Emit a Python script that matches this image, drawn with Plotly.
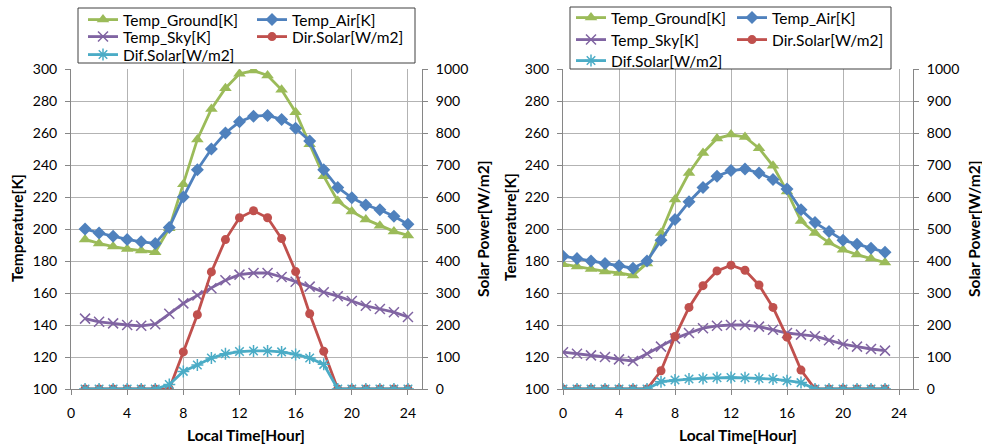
import plotly.graph_objects as go

W, H = 982, 446

# left chart: hours 1..24
hours_l = list(range(1, 25))
ground_l = [193.5, 191, 189, 187.5, 186.5, 185.5, 200.5, 228, 256, 275, 288, 297,
            299, 296, 287, 273, 253, 233, 217.5, 211, 206, 202, 198.5, 196]
air_l = [200, 197.5, 195.5, 193.5, 192, 191, 201, 220, 237, 250, 260, 267,
         270.5, 271, 268.5, 263, 255, 237, 226, 219.5, 215, 212, 208, 203]
sky_l = [144, 142, 141, 140, 139.5, 140.5, 147, 153.5, 158.5, 163, 168, 171.5,
         172.5, 172.5, 170, 167, 164, 160.5, 158, 155, 152, 150, 148, 145]
dir_l = [0, 0, 0, 0, 0, 0, 0, 116, 232, 366, 467, 535,
         557, 535, 470, 367, 235, 118, 0, 0, 0, 0, 0, 0]
dif_l = [0, 0, 0, 0, 0, 0, 14, 55, 75, 97, 110, 117,
         119, 119, 116, 108, 97, 77, 0, 0, 0, 0, 0, 0]

# right chart: hours 0..23
hours_r = list(range(0, 24))
ground_r = [178, 176.5, 175, 173.5, 172.5, 171, 178.5, 197.5, 218.5, 235, 247.5, 256.5,
            259, 257.5, 250.5, 239.5, 223.5, 205, 197.5, 191.5, 187, 184, 181.5, 179]
air_r = [183, 181.5, 180, 178.5, 177, 175.5, 180, 193, 206, 217, 226, 233,
         236.5, 237.5, 235, 231, 225, 212, 204, 198.5, 193, 190.5, 188, 185.5]
sky_r = [123, 122, 121, 120, 118.5, 117.5, 122, 126.5, 131.5, 135, 138, 139.5,
         140, 140, 139, 137, 135, 134, 133, 130.5, 128, 126.5, 125, 124]
dir_r = [0, 0, 0, 0, 0, 0, 0, 57, 164, 255, 323, 369,
         387, 371, 325, 255, 162, 59, 0, 0, 0, 0, 0, 0]
dif_r = [0, 0, 0, 0, 0, 0, 0, 23, 28, 31, 33, 35,
         36, 35, 33, 31, 26, 20, 0, 0, 0, 0, 0, 0]

names = ['Temp_Ground[K]', 'Temp_Air[K]', 'Temp_Sky[K]', 'Dir.Solar[W/m2]', 'Dif.Solar[W/m2]']
colors = ['#9bbb59', '#4f81bd', '#8064a2', '#c0504d', '#4bacc6']
symbols = ['triangle-up', 'diamond', 'x-thin-open', 'circle', 'asterisk-open']
sizes = [11, 10, 10, 9, 10]

FONT = 'Lato'


def px_x(p):
    return p / W


def px_y(p):
    return 1 - p / H


fig = go.Figure()

sets = [
    (hours_l, [ground_l, air_l, sky_l, dir_l, dif_l], ('x', 'y', 'y2'), 0),
    (hours_r, [ground_r, air_r, sky_r, dir_r, dif_r], ('x2', 'y3', 'y4'), 5),
]
for hrs, series, (xa, ya, ya2), off in sets:
    for i, vals in enumerate(series):
        open_sym = symbols[i].endswith('open')
        fig.add_trace(go.Scatter(
            x=hrs, y=vals, name=names[i], mode='lines+markers',
            xaxis=xa, yaxis=ya if i < 3 else ya2,
            line=dict(color=colors[i], width=2.8),
            marker=dict(symbol=symbols[i], size=sizes[i], color=colors[i],
                        line=dict(color=colors[i], width=1.5 if open_sym else 0)),
            legend='legend' if off + i == 0 else 'legend%d' % (off + i + 1),
        ))

# legend entries placed as in the reference (line start x, row centre y)
leg_pos = [(88, 20), (257, 20), (88, 37), (257, 37), (88, 55),
           (576, 18), (737, 18), (576, 40), (737, 40), (576, 61)]
legends = {}
for k, (lx, ly) in enumerate(leg_pos):
    key = 'legend' if k == 0 else 'legend%d' % (k + 1)
    legends[key] = dict(x=px_x(lx - 5), y=px_y(ly), xanchor='left', yanchor='middle',
                        bgcolor='rgba(0,0,0,0)', borderwidth=0,
                        font=dict(family=FONT, size=15.5, color='#000'))

grid = '#b3b3b3'
axline = '#868686'
tickfont = dict(family=FONT, size=14, color='#000')

xcommon = dict(range=[0, 25], tick0=0, dtick=4, showgrid=True, gridcolor=grid, gridwidth=1,
               showline=True, linecolor=axline, linewidth=1, ticks='outside', ticklen=5,
               tickcolor=axline, tickfont=tickfont, zeroline=False, ticklabelstandoff=6)
ycommon = dict(range=[100, 300], tick0=100, dtick=20, showgrid=True, gridcolor=grid,
               showline=True, linecolor=axline, linewidth=1, ticks='outside', ticklen=5,
               tickcolor=axline, tickfont=tickfont, zeroline=False, ticklabelstandoff=5)
y2common = dict(range=[0, 1000], tick0=0, dtick=100, showgrid=False, side='right',
                showline=True, linecolor=axline, linewidth=1, ticks='outside', ticklen=5,
                tickcolor=axline, tickfont=tickfont, zeroline=False, ticklabelstandoff=5)

ydom = [px_y(389), px_y(69)]

fig.update_layout(
    width=W, height=H,
    margin=dict(l=0, r=0, t=0, b=0, autoexpand=False),
    paper_bgcolor='white', plot_bgcolor='white',
    showlegend=True,
    xaxis=dict(domain=[px_x(71), px_x(422)], anchor='y', **xcommon),
    yaxis=dict(domain=ydom, anchor='x', **ycommon),
    yaxis2=dict(overlaying='y', anchor='x', **y2common),
    xaxis2=dict(domain=[px_x(563), px_x(913)], anchor='y3', **xcommon),
    yaxis3=dict(domain=ydom, anchor='x2', **ycommon),
    yaxis4=dict(overlaying='y3', anchor='x2', **y2common),
    **legends,
)

# legend frames
for x0, x1, y0, y1 in [(78, 415, 8, 63), (570, 891, 7, 69)]:
    fig.add_shape(type='rect', xref='paper', yref='paper',
                  x0=px_x(x0), x1=px_x(x1), y0=px_y(y1), y1=px_y(y0),
                  line=dict(color='#404040', width=1), fillcolor='rgba(0,0,0,0)', layer='above')

titlefont = dict(family=FONT, size=15.5, color='#000', weight='bold')
for text, x, y, ang in [('Temperature[K]', 17, 228, -90), ('Solar Power[W/m2]', 483, 229, -90),
                        ('Temperature[K]', 510, 227, -90), ('Solar Power[W/m2]', 974, 229, -90),
                        ('Local Time[Hour]', 246, 435, 0), ('Local Time[Hour]', 738, 435, 0)]:
    fig.add_annotation(text='<b>%s</b>' % text, x=px_x(x), y=px_y(y), xref='paper', yref='paper',
                       showarrow=False, textangle=ang, font=titlefont,
                       xanchor='center', yanchor='middle')

fig.write_html('out.html', config={'displayModeBar': False},
               post_script="document.body.style.margin='0';"
                           "document.body.style.overflow='hidden';")
